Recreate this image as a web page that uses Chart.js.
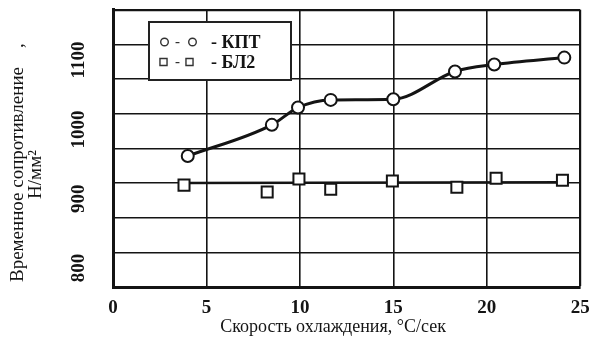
<!DOCTYPE html>
<html>
<head>
<meta charset="utf-8">
<script src="https://cdn.jsdelivr.net/npm/chart.js@4/dist/chart.umd.min.js"></script>
<style>
  html, body { margin: 0; padding: 0; background: #fff; }
  #wrap { width: 590px; height: 342px; }
</style>
</head>
<body>
<div id="wrap"><canvas id="c" width="590" height="342"></canvas></div>
<script>
// Cooling rate, °C/s, and ultimate strength, N/mm², for the two steels
const speedKPT    = [4.0, 8.5, 9.9, 11.65, 15.0, 18.3, 20.4, 24.15];
const strengthKPT = [989, 1034, 1059, 1070, 1071, 1111, 1121, 1131];

const speedBL2    = [3.8, 8.25, 9.95, 11.65, 14.95, 18.4, 20.5, 24.05];
const strengthBL2 = [947, 937, 956, 941, 953, 944, 957, 954];

// averaged level drawn through the БЛ2 points
const trendSpeedBL2    = [3.8, 24.05];
const trendStrengthBL2 = [950, 951];

const xTicks = [0, 5, 10, 15, 20, 25];
const yTickLabels = [800, 900, 1000, 1100];

const seriesNames = ['КПТ', 'БЛ2'];
const xTitle = 'Скорость охлаждения, °С/сек      ';
const yTitle = ['Временное сопротивление    ,      ', 'Н/мм²           '];

const pts = (xs, ys) => xs.map((x, i) => ({ x: x, y: ys[i] }));
const INK = '#141414';
const SERIF = "'Liberation Serif', 'Times New Roman', serif";

// legend box with "○ - ○ - КПТ" style entries
const boxLegend = {
  id: 'boxLegend',
  afterDraw(chart) {
    const ctx = chart.ctx;
    const x0 = 149, y0 = 22, w = 142, h = 58;
    ctx.save();
    ctx.fillStyle = '#fff';
    ctx.fillRect(x0, y0, w, h);
    ctx.lineWidth = 2;
    ctx.strokeStyle = '#222';
    ctx.strokeRect(x0, y0, w, h);

    const rows = [
      { y: 42, style: 'circle', r: 3.8, a: 164.5, b: 192.5, label: seriesNames[0] },
      { y: 62, style: 'rect',   r: 5.0, a: 163.5, b: 189.5, label: seriesNames[1] }
    ];
    rows.forEach(row => {
      ctx.fillStyle = '#fff';
      ctx.strokeStyle = '#333';
      ctx.lineWidth = 1.4;
      Chart.helpers.drawPoint(ctx, { pointStyle: row.style, radius: row.r, borderWidth: 1.4, rotation: 0 }, row.a, row.y);
      Chart.helpers.drawPoint(ctx, { pointStyle: row.style, radius: row.r, borderWidth: 1.4, rotation: 0 }, row.b, row.y);
      ctx.fillStyle = '#333';
      ctx.textBaseline = 'middle';
      ctx.textAlign = 'center';
      ctx.font = 'bold 15px ' + SERIF;
      ctx.fillText('-', 177.5, row.y);
      ctx.textAlign = 'left';
      ctx.fillStyle = INK;
      ctx.font = 'bold 18px ' + SERIF;
      ctx.fillText('- ' + row.label, 211, row.y + 1);
    });
    ctx.restore();
  }
};

new Chart(document.getElementById('c'), {
  type: 'line',
  data: {
    datasets: [
      {
        label: seriesNames[0],
        data: pts(speedKPT, strengthKPT),
        borderColor: INK,
        borderWidth: 3,
        cubicInterpolationMode: 'monotone',
        pointStyle: 'circle',
        pointRadius: 6,
        pointBorderWidth: 2,
        pointBorderColor: INK,
        pointBackgroundColor: '#fff',
        fill: false
      },
      {
        label: seriesNames[1],
        data: pts(speedBL2, strengthBL2),
        showLine: false,
        pointStyle: 'rect',
        pointRadius: 7.8,
        pointBorderWidth: 2,
        pointBorderColor: INK,
        pointBackgroundColor: '#fff'
      },
      {
        label: seriesNames[1] + ' trend',
        data: pts(trendSpeedBL2, trendStrengthBL2),
        borderColor: INK,
        borderWidth: 2.5,
        pointRadius: 0,
        fill: false
      }
    ]
  },
  options: {
    responsive: false,
    animation: false,
    devicePixelRatio: 1,
    layout: { padding: { left: 0, right: 7, top: 7, bottom: 0 } },
    plugins: {
      legend: { display: false },
      tooltip: { enabled: false }
    },
    scales: {
      x: {
        type: 'linear',
        min: 0,
        max: 25,
        afterBuildTicks: s => { s.ticks = xTicks.map(v => ({ value: v })); },
        afterFit: s => { s.height = 55; s.paddingLeft = 0; s.paddingRight = 0; },
        grid: {
          color: INK,
          lineWidth: c => (c.tick && c.tick.value === 25 ? 2.2 : 1.6),
          drawTicks: false
        },
        border: { display: true, color: INK, width: 3 },
        ticks: {
          padding: 10,
          color: INK,
          maxRotation: 0,
          autoSkip: false,
          font: { family: SERIF, size: 19, weight: 'bold' }
        },
        title: {
          display: true,
          text: xTitle,
          color: INK,
          padding: { top: 0, bottom: 4 },
          font: { family: SERIF, size: 18, lineHeight: 1.2 }
        }
      },
      y: {
        type: 'linear',
        min: 800,
        max: 1200,
        afterFit: s => { s.width = 113; s.paddingTop = 0; s.paddingBottom = 0; },
        grid: {
          color: INK,
          lineWidth: c => (c.tick && c.tick.value === 1200 ? 2.2 : 1.6),
          drawTicks: false
        },
        border: { display: true, color: INK, width: 3 },
        ticks: {
          stepSize: 50,
          autoSkip: false,
          minRotation: 90,
          maxRotation: 90,
          crossAlign: 'center',
          padding: 15,
          labelOffset: -19,
          color: INK,
          font: { family: SERIF, size: 19, weight: 'bold' },
          callback: v => (yTickLabels.includes(v) ? String(v) : '')
        },
        title: {
          display: true,
          text: yTitle,
          color: INK,
          padding: { top: 9, bottom: 0 },
          font: { family: SERIF, size: 19, lineHeight: 0.95 }
        }
      }
    }
  },
  plugins: [boxLegend]
});
</script>
</body>
</html>
